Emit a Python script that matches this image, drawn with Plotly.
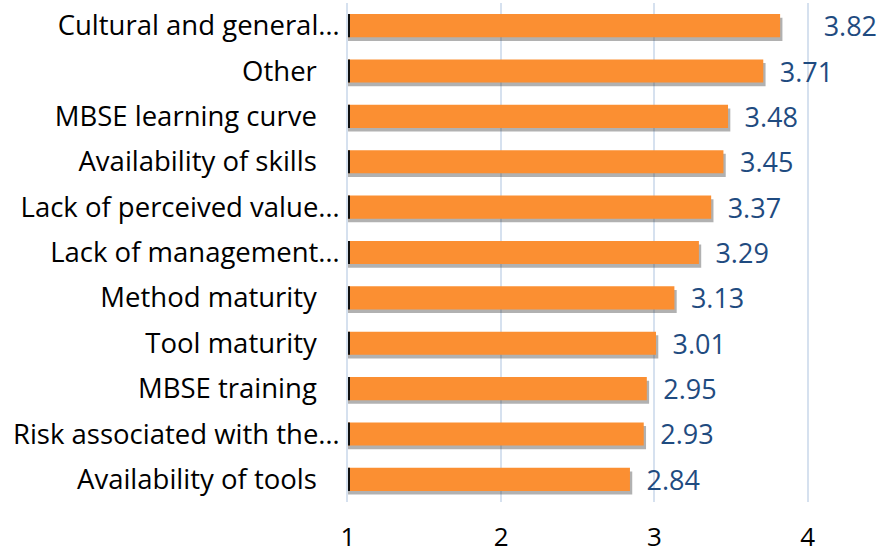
import plotly.graph_objects as go

categories = [
    "Cultural and general…",
    "Other",
    "MBSE learning curve",
    "Availability of skills",
    "Lack of perceived value…",
    "Lack of management…",
    "Method maturity",
    "Tool maturity",
    "MBSE training",
    "Risk associated with the…",
    "Availability of tools",
]
values = [3.82, 3.71, 3.48, 3.45, 3.37, 3.29, 3.13, 3.01, 2.95, 2.93, 2.84]
x_ticks = [1, 2, 3, 4]
base_value = 1

# label padding (in en spaces); the top label sits further out in the original
label_pads = [3, 1, 1, 1, 1, 1, 1, 1, 1, 1, 1]

bar_w = 0.51
n = len(values)
lengths = [v - base_value for v in values]
labels = ["\u2002" * p + f"{v:.2f}" for p, v in zip(label_pads, values)]
# untruncated labels keep a little trailing space, as in the original
tick_text = [c if c.endswith("…") else c + "\u2002\u2004" for c in categories]

FONT = "Open Sans, Lato, sans-serif"

fig = go.Figure()
# soft shadow (slightly right and down)
fig.add_trace(go.Bar(
    y=categories, x=[l + 0.015 for l in lengths], base=base_value, orientation="h",
    width=bar_w, offset=-bar_w / 2 + 0.08,
    marker=dict(color="rgba(60,60,60,0.40)", line=dict(width=0)),
    hoverinfo="skip", showlegend=False,
))
fig.add_trace(go.Bar(
    y=categories, x=lengths, base=base_value, orientation="h",
    width=bar_w, offset=-bar_w / 2,
    marker=dict(color="#FB8F32", line=dict(width=0)),
    text=labels, textposition="outside", cliponaxis=False,
    constraintext="none",
    textfont=dict(family=FONT, size=27, color="#1F4B80"),
    showlegend=False,
))
# thin dark edge at the bars' base
fig.add_trace(go.Bar(
    y=categories, x=[0.013] * n, base=base_value, orientation="h",
    width=bar_w, offset=-bar_w / 2,
    marker=dict(color="#111111", line=dict(width=0)),
    hoverinfo="skip", showlegend=False,
))

fig.update_layout(
    width=881, height=555,
    margin=dict(l=348, r=12, t=3, b=53),
    paper_bgcolor="white", plot_bgcolor="white",
    barmode="overlay",
    font=dict(family=FONT, size=27, color="black"),
    xaxis=dict(
        range=[1, 4.4], tickvals=x_ticks, ticktext=[str(t) for t in x_ticks],
        showgrid=True, gridcolor="#D6E1EF", gridwidth=1.5,
        zeroline=False, showline=False, ticks="",
        tickfont=dict(size=26, color="black"), ticklabelstandoff=17,
        automargin=False,
    ),
    yaxis=dict(
        autorange="reversed", showgrid=False, zeroline=False,
        showline=True, linecolor="#D6E1EF", linewidth=1.5,
        ticks="", ticklabelstandoff=1,
        tickvals=categories, ticktext=tick_text,
        tickfont=dict(size=27.5, color="black"), automargin=False,
    ),
)

fig.write_html(
    "out.html",
    config={"displayModeBar": False},
    post_script="document.body.style.margin='0';",
)
